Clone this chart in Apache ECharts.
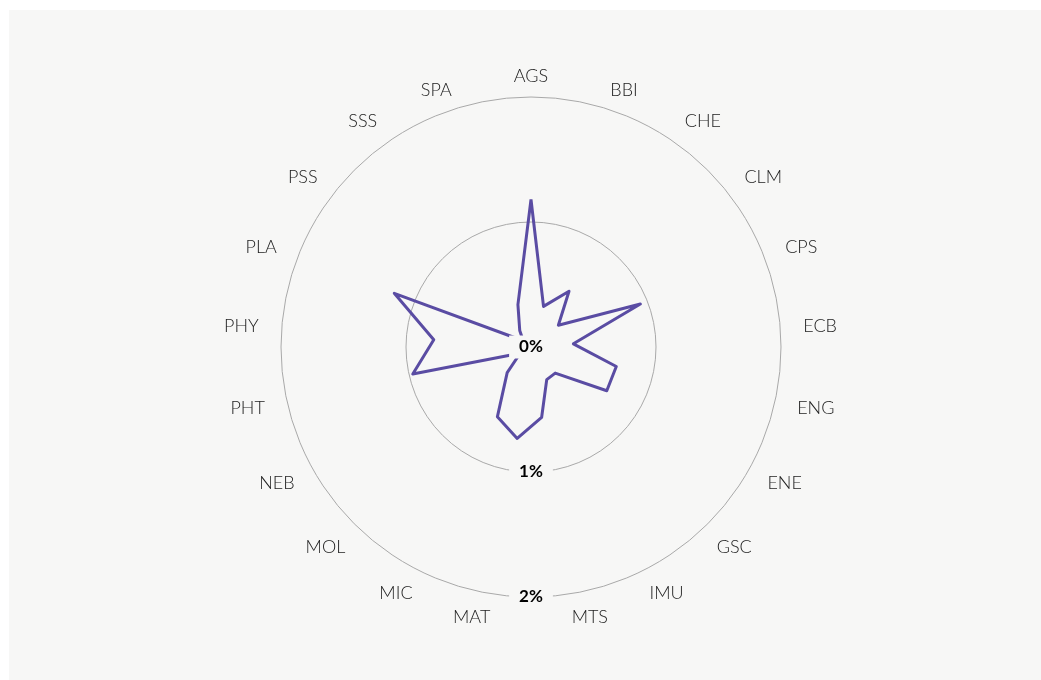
<!DOCTYPE html>
<html>
<head>
<meta charset="utf-8">
<script src="https://cdn.jsdelivr.net/npm/echarts@6/dist/echarts.min.js"></script>
<style>
  html, body { margin: 0; padding: 0; background: #ffffff; }
  #main { position: absolute; left: 9px; top: 10px; width: 1032px; height: 670px; background: #f7f7f6; }
</style>
</head>
<body>
<div id="main"></div>
<script>
// categories, clockwise from the top
const categories = ['AGS', 'BBI', 'CHE', 'CLM', 'CPS', 'ECB', 'ENG', 'ENE', 'GSC', 'IMU', 'MTS',
                    'MAT', 'MIC', 'MOL', 'NEB', 'PHT', 'PHY', 'PLA', 'PSS', 'SSS', 'SPA'];
// share in percent
const values = [1.18, 0.34, 0.54, 0.28, 0.94, 0.34, 0.70, 0.70, 0.285, 0.29, 0.57,
                0.74, 0.62, 0.28, 0.10, 0.97, 0.78, 1.175, 0.08, 0.16, 0.355];
const radiusTicks = [0, 1, 2];

const bg = '#f7f7f6';
const center = [522, 337];

// labels near the top sit a bit closer to the ring
function gapFor(name) {
    if (name === 'AGS') return 12;
    if (name === 'BBI' || name === 'SPA') return 19;
    return 23;
}

// radar goes counter-clockwise, so keep the first one and reverse the rest
const order = [0].concat(categories.map((c, i) => i).slice(1).reverse());
const indicator = order.map(i => ({
    name: categories[i],
    min: 0,
    max: radiusTicks[radiusTicks.length - 1],
    nameGap: gapFor(categories[i])
}));
const seriesData = order.map(i => values[i]);

var myChart = echarts.init(document.getElementById('main'));
myChart.setOption({
    backgroundColor: bg,
    radar: {
        center: center,
        radius: 250,
        startAngle: 90,
        shape: 'circle',
        splitNumber: radiusTicks.length - 1,
        indicator: indicator,
        axisName: { color: '#222', fontSize: 18, fontFamily: 'Lato', fontWeight: 300 },
        axisLine: { show: false },
        axisTick: { show: false },
        axisLabel: { show: false },
        splitArea: { show: false },
        splitLine: { lineStyle: { color: '#a9a9a9', width: 1 } }
    },
    // hidden polar only used for the % labels pointing down
    polar: { center: center, radius: 250 },
    angleAxis: { type: 'value', startAngle: 270, min: 0, max: 360, show: false },
    radiusAxis: {
        type: 'value',
        min: radiusTicks[0],
        max: radiusTicks[radiusTicks.length - 1],
        interval: 1,
        z: 10,
        axisLine: { show: false },
        axisTick: { show: false },
        splitLine: { show: false },
        axisLabel: {
            formatter: '{value}%',
            margin: 0,
            align: 'center',
            verticalAlign: 'middle',
            fontFamily: 'Lato',
            fontWeight: 'bold',
            fontSize: 17,
            color: '#000',
            backgroundColor: bg,
            padding: [3, 10]
        }
    },
    series: [{
        type: 'radar',
        symbol: 'none',
        silent: true,
        lineStyle: { color: '#5a4ca3', width: 3 },
        data: [{ value: seriesData }]
    }]
});
</script>
</body>
</html>
